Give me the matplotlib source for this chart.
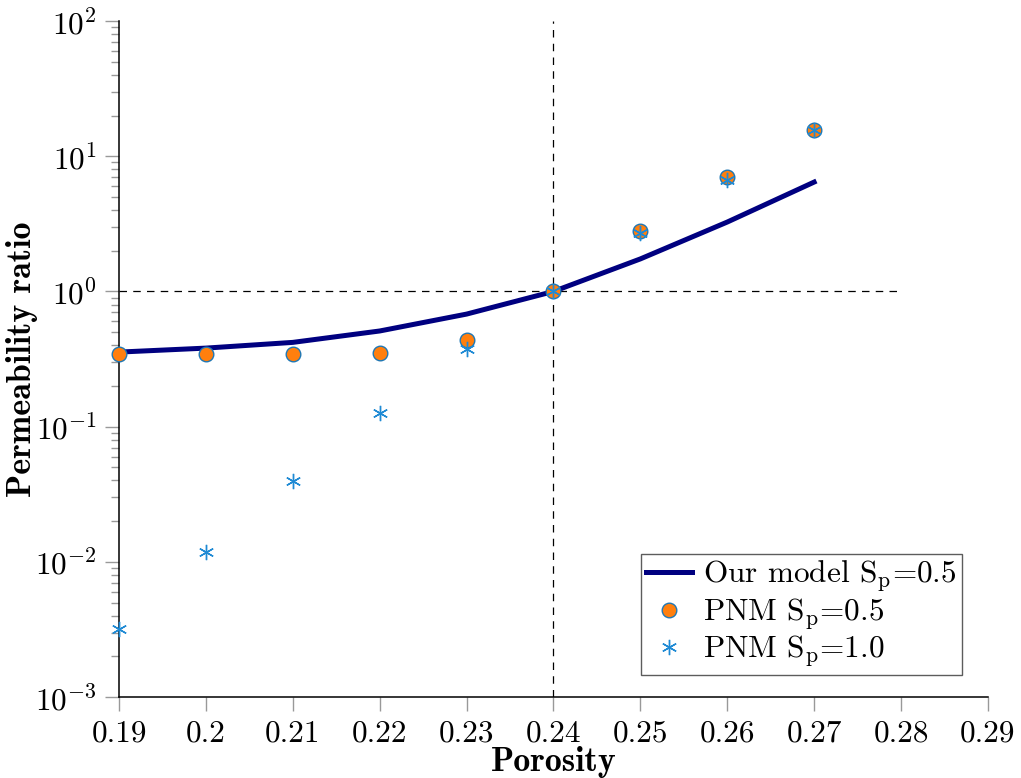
import numpy as np
import matplotlib
matplotlib.use('Agg')
from matplotlib import pyplot as plt
from matplotlib.ticker import FixedLocator, FuncFormatter, LogLocator, NullFormatter

plt.rcParams['font.family'] = 'serif'
plt.rcParams['font.serif'] = ['cmr10']
plt.rcParams['mathtext.fontset'] = 'cm'
plt.rcParams['axes.formatter.use_mathtext'] = True

# values
porosity = [0.19, 0.20, 0.21, 0.22, 0.23, 0.24, 0.25, 0.26, 0.27]
model_sp05 = [0.356, 0.381, 0.42, 0.51, 0.68, 1.0, 1.74, 3.26, 6.44]
pnm_sp05 = [0.344, 0.344, 0.344, 0.35, 0.437, 1.0, 2.8, 7.0, 15.6]
pnm_sp10 = [0.00318, 0.0118, 0.0396, 0.126, 0.375, 1.0, 2.7, 6.67, 15.6]

x_ticks = [0.19, 0.20, 0.21, 0.22, 0.23, 0.24, 0.25, 0.26, 0.27, 0.28, 0.29]
ref_porosity = 0.24
ref_ratio = 1.0
ref_line_end = 0.28

fig = plt.figure(figsize=(10.21, 7.78), dpi=100)
ax = fig.add_axes([0.1166, 0.104, 0.851, 0.869])

# dashed reference lines through the normalisation point
ax.axvline(ref_porosity, color='black', lw=0.9, ls=(0, (6, 5)), zorder=1)
ax.plot([porosity[0], ref_line_end], [ref_ratio, ref_ratio], color='black',
        lw=0.9, ls=(0, (6, 5)), zorder=1)

ax.plot(porosity, model_sp05, color='#000080', lw=3.6, zorder=2,
        label=r'Our model S$_\mathrm{p}$=0.5')
ax.plot(porosity, pnm_sp05, ls='none', marker='o', ms=10.5,
        mfc='#ff7f0e', mec='#1f77b4', mew=1.0, zorder=3, clip_on=False,
        label=r'PNM S$_\mathrm{p}$=0.5')
ax.plot(porosity, pnm_sp10, ls='none', marker=(6, 2, 0), ms=11,
        color='#1f8ad4', mew=1.0, zorder=4, clip_on=False,
        label=r'PNM S$_\mathrm{p}$=1.0')

ax.set_yscale('log')
ax.set_xlim(0.19, 0.29)
ax.set_ylim(1e-3, 1e2)
ax.xaxis.set_major_locator(FixedLocator(x_ticks))
ax.xaxis.set_major_formatter(FuncFormatter(lambda v, p: '%g' % round(v, 2)))
ax.yaxis.set_major_locator(LogLocator(base=10, numticks=10))
ax.yaxis.set_minor_locator(LogLocator(base=10, subs=np.arange(2, 10), numticks=10))
ax.yaxis.set_minor_formatter(NullFormatter())

for s in ['top', 'right']:
    ax.spines[s].set_visible(False)
for s in ['left', 'bottom']:
    ax.spines[s].set_linewidth(1.1)

ax.tick_params(which='major', direction='out', length=10, width=1.0,
               color='#999999', labelsize=22.5, pad=6)
ax.tick_params(which='minor', direction='out', length=6, width=1.0,
               color='#999999')

ax.set_xlabel('Porosity', fontsize=24.5, fontfamily='cmb10')
ax.set_ylabel('Permeability ratio', fontsize=24.5, fontfamily='cmb10')
ax.xaxis.set_label_coords(0.5, -0.072)
ax.yaxis.set_label_coords(-0.093, 0.5)

leg = ax.legend(loc='lower right', bbox_to_anchor=(0.970, 0.0325), fontsize=22.5,
                frameon=True, fancybox=False, edgecolor='#333333',
                handlelength=1.45, handletextpad=0.35, borderpad=0.18,
                labelspacing=0.08, borderaxespad=0)
leg.get_frame().set_linewidth(1.0)

fig.savefig('out.png', dpi=100)
